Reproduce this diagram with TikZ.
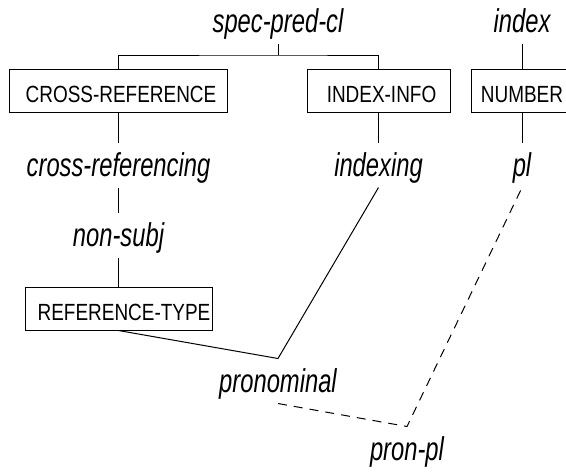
\documentclass[tikz,border=0pt]{standalone}
\usepackage{fontspec}
\setmainfont{Liberation Sans}
\newfontfamily\typefont[FakeStretch=0.72]{Liberation Sans Italic}
\newfontfamily\featfont[FakeStretch=0.81]{Liberation Sans}

\begin{document}
\begin{tikzpicture}[x=0.5pt, y=-0.5pt, line width=0.5pt,
  typ/.style={anchor=base, inner sep=1.5pt, text height=15pt, text depth=4pt,
    font=\typefont\fontsize{16.5}{18}\selectfont},
  feat/.style={draw, minimum height=21.5pt, inner sep=0pt, text height=11.5pt,
    text depth=0pt, font=\featfont\fontsize{11.7}{14}\selectfont},
  sub/.style={dash pattern=on 4.5pt off 3.5pt}]
\useasboundingbox (0,0) rectangle (566,472);
% types
\node[typ] (spc) at (278,32) {spec-pred-cl};
\node[typ] (idx) at (522,32) {index};
\node[typ] (xrf) at (118.5,176) {cross-referencing};
\node[typ] (ixg) at (378.5,176) {indexing};
\node[typ] (pl) at (522,176) {pl};
\node[typ] (nsb) at (118.5,246) {non-subj};
\node[typ] (prn) at (278,392) {pronominal};
\node[typ] (ppl) at (407,460) {pron-pl};
% features
\node[feat, minimum width=109pt] (XR) at (118.5,90.5) {\hspace{2.5pt}CROSS-REFERENCE};
\node[feat, minimum width=71.5pt] (II) at (378.5,90.5) {\hspace{3pt}INDEX-INFO};
\node[feat, minimum width=51pt] (NUM) at (522,90.5) {NUMBER};
\node[feat, minimum width=93.5pt] (RT) at (118.5,308.5) {\hspace{5.5pt}REFERENCE-TYPE};
% edges
\coordinate (bar) at (278,55);
\draw (spc) -- (bar);
\draw (XR.north) |- (bar) -| (II.north);
\draw (idx) -- (NUM);
\draw (XR) -- (xrf);
\draw (II) -- (ixg);
\draw (NUM) -- (pl);
\draw (xrf) -- (nsb);
\draw (nsb) -- (RT);
\draw (RT.south) -- (prn.north) -- (ixg.south);
\draw[sub] (prn.south) -- (ppl.north) -- (pl.south);
\end{tikzpicture}
\end{document}
